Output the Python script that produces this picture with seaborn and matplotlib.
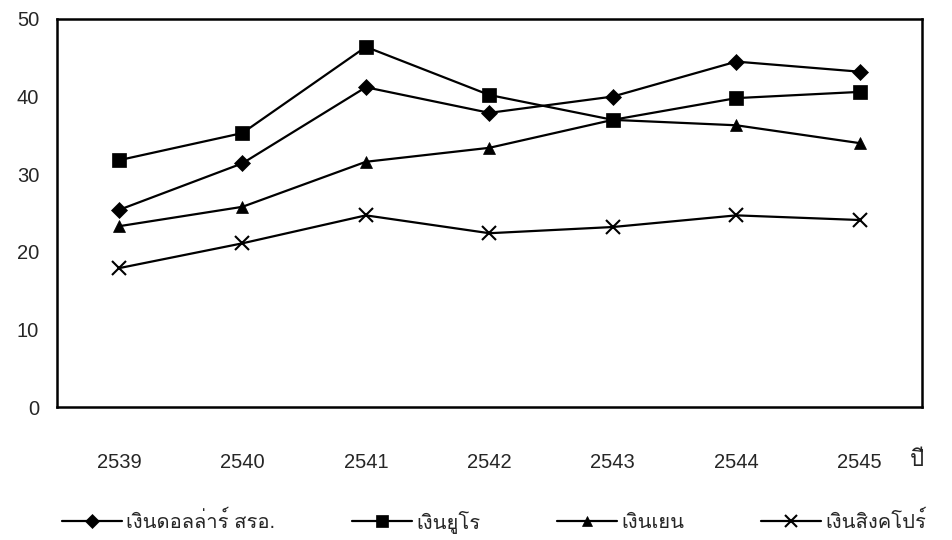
import matplotlib
matplotlib.use("Agg")
import matplotlib.pyplot as plt
import numpy as np
import pandas as pd
import seaborn as sns
from matplotlib import font_manager, ft2font

years = ["2539", "2540", "2541", "2542", "2543", "2544", "2545"]
usd = [25.4, 31.4, 41.2, 37.9, 40.0, 44.5, 43.2]
euro = [31.8, 35.3, 46.4, 40.2, 37.0, 39.8, 40.6]
yen = [23.3, 25.8, 31.6, 33.4, 37.0, 36.3, 34.0]
sgd = [17.9, 21.1, 24.7, 22.4, 23.2, 24.7, 24.1]
names = ["เงินดอลล่าร์ สรอ.", "เงินยูโร", "เงินเยน", "เงินสิงคโปร์"]

# find a font that actually has Thai glyphs
thai_font = None
for f in font_manager.fontManager.ttflist:
    try:
        if 0x0E07 in ft2font.FT2Font(f.fname).get_charmap():
            thai_font = f.name
            break
    except Exception:
        pass

sns.set_theme(style="white")
fams = ["Liberation Sans"] + ([thai_font] if thai_font else []) + ["DejaVu Sans"]
plt.rcParams["font.family"] = fams

df = pd.DataFrame({
    "year": years * 4,
    "value": usd + euro + yen + sgd,
    "series": sum([[n] * len(years) for n in names], []),
})

fig = plt.figure(figsize=(9.53, 5.4), dpi=100)
ax = fig.add_axes([0.06, 0.246, 0.907, 0.719])

markers = {names[0]: "D", names[1]: "s", names[2]: "^", names[3]: "x"}
sizes = {names[0]: 8, names[1]: 10, names[2]: 9, names[3]: 10}
for n in names:
    sub = df[df["series"] == n]
    sns.lineplot(data=sub, x="year", y="value", ax=ax, color="black",
                 marker=markers[n], markersize=sizes[n], markeredgewidth=1.5 if n == names[3] else 0.5,
                 markeredgecolor="black", linewidth=1.6, label=n, sort=False)

ax.set_xlim(-0.5, len(years) - 0.5)
ax.set_ylim(0, 50)
ax.set_yticks([0, 10, 20, 30, 40, 50])
ax.set_xticks(range(len(years)))
ax.set_xticklabels(years)
ax.set_xticks(np.arange(-0.5, len(years)), minor=True)
ax.tick_params(axis="x", which="major", length=0, pad=33, labelsize=14.5)
ax.tick_params(axis="x", which="minor", length=6, width=1.5, direction="out", color="black")
ax.tick_params(axis="y", length=7, width=1.5, direction="out", color="black", labelsize=14.5, pad=6)
ax.set_xlabel("")
ax.set_ylabel("")
for s in ax.spines.values():
    s.set_color("black")
    s.set_linewidth(1.8)

fig.text(0.955, 0.148, "ปี", fontsize=16, ha="left", va="center")

ax.legend(loc="center left", bbox_to_anchor=(0.054, 0.034), bbox_transform=fig.transFigure,
          ncol=4, frameon=False, borderpad=0, fontsize=14.5, handlelength=3.0,
          columnspacing=3.8, handletextpad=0.2, markerscale=0.85)

fig.savefig("out.png", dpi=100, facecolor="white")
